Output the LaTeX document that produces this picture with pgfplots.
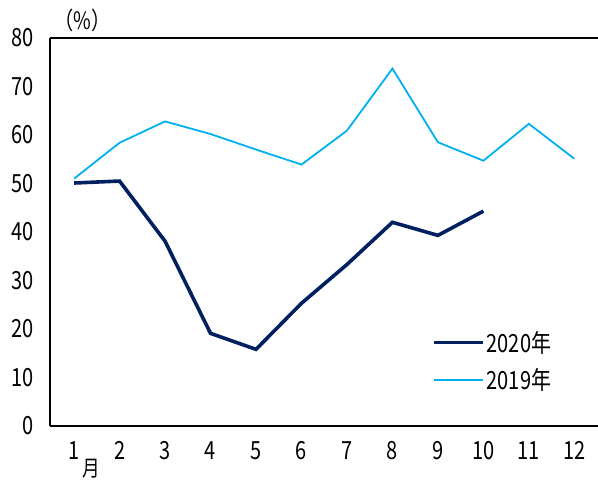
\documentclass[border=0pt]{standalone}
\usepackage{pgfplots}
\pgfplotsset{compat=1.18}
\usetikzlibrary{calc}
\usepackage{fontspec}
\setmainfont{Noto Sans CJK JP}[FakeStretch=0.8]
\definecolor{navy}{HTML}{002060}
\definecolor{sky}{HTML}{00B0F0}
\begin{document}
\begin{tikzpicture}
\begin{axis}[
  scale only axis,
  width=548pt, height=388pt,
  xmin=0.47, xmax=12.52, ymin=0, ymax=80,
  axis x line*=box, axis y line*=left,
  xtick={1,...,12}, ytick={0,10,...,80},
  major tick length=0pt,
  axis line style={line width=1.6pt, black},
  tick label style={font=\fontsize{25}{25}\selectfont},
  /pgf/number format/assume math mode=true,
  xticklabel style={yshift=-12pt},
  yticklabel style={xshift=-13pt},
  legend style={draw=none, fill=none, at={(rel axis cs:0.697,0.25)}, anchor=north west,
    font=\fontsize{25}{25}\selectfont, row sep=11pt, inner sep=0pt},
  legend cell align=left,
  legend image code/.code={\draw[#1] (0pt,0pt) -- (49pt,0pt);},
  clip=false,
]
\addplot[navy, line width=3.6pt] coordinates {
(1,50.1) (2,50.5) (3,38.1) (4,19.1) (5,15.8) (6,25.3) (7,33.3) (8,42.0) (9,39.3) (10,44.3)};
\addlegendentry{2020年}
\addplot[sky, line width=1.8pt] coordinates {
(1,51.0) (2,58.4) (3,62.8) (4,60.2) (5,57.0) (6,53.9) (7,60.9) (8,73.7) (9,58.5) (10,54.7) (11,62.3) (12,55.1)};
\addlegendentry{2019年}
\node[font=\fontsize{24}{24}\selectfont, anchor=base] at (rel axis cs:0.059,1.021) {（\%）};
\node[font=\fontsize{22}{22}\selectfont] at (axis cs:1.37,-8.9) {月};
\end{axis}
\pgfresetboundingbox
\path[use as bounding box] ($(current axis.south west)+(-50pt,-57pt)$) rectangle ($(current axis.north east)+(0pt,38pt)$);
\end{tikzpicture}
\end{document}
